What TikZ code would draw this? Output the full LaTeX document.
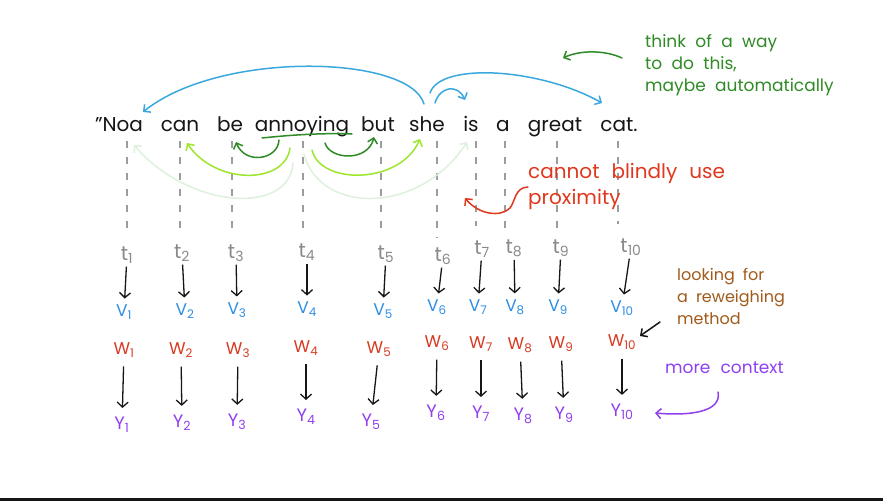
\documentclass[tikz,border=0pt]{standalone}
\usepackage{fontspec}
\setmainfont{Poppins}
\usetikzlibrary{arrows.meta}
\definecolor{ink}{HTML}{161616}
\definecolor{tgray}{HTML}{8A8A8A}
\definecolor{dgray}{HTML}{9C9C9C}
\definecolor{vblue}{HTML}{2E8FE5}
\definecolor{lblue}{HTML}{3AA8DF}
\definecolor{wred}{HTML}{D93A22}
\definecolor{nred}{HTML}{E0381E}
\definecolor{ypurp}{HTML}{9040F0}
\definecolor{dgreen}{HTML}{2E8B25}
\definecolor{lime}{HTML}{9EE52E}
\definecolor{pale}{HTML}{DDF1DD}
\definecolor{brown}{HTML}{A05A1A}
\newcommand\widespace[1]{\spaceskip=#1\relax}
\begin{document}
\begin{tikzpicture}[x=1pt,y=-1pt,
  word/.style={font=\fontsize{20}{24}\selectfont,text=ink,anchor=base,inner sep=0pt},
  tl/.style={font=\fontsize{20}{22}\selectfont,text=tgray,inner sep=1pt},
  vl/.style={font=\fontsize{17}{20}\selectfont,text=vblue,inner sep=1pt},
  wl/.style={font=\fontsize{17}{20}\selectfont,text=wred,inner sep=1pt},
  yl/.style={font=\fontsize{18}{20}\selectfont,text=ypurp,inner sep=1pt},
  dn/.style={draw=ink,line width=1.3pt,-{Straight Barb[length=5pt,width=11pt]}},
  gdash/.style={draw=dgray,line width=1.2pt,dash pattern=on 7pt off 9pt},
  note/.style={align=left,anchor=north west,inner sep=0pt},
  barb/.style={-{Straight Barb[length=5pt,width=10pt]}},
  arc/.style={line width=1.5pt,line cap=round,barb},
]
\fill[white] (0,0) rectangle (883,501);
\useasboundingbox (0,0) rectangle (883,501);
\fill[ink] (0,498) rectangle (883,501);

% sentence
\node[word] (s1) at (119,131) {”Noa};
\node[word] (s2) at (180,131) {can};
\node[word] (s3) at (230,131) {be};
\node[word] (s4) at (302,131) {annoying};
\node[word] (s5) at (378,131) {but};
\node[word] (s6) at (427,131) {she};
\node[word] (s7) at (471,131) {is};
\node[word] (s8) at (503,131) {a};
\node[word] (s9) at (555,131) {great};
\node[word] (s10) at (619,131) {cat.};

% dashed guides
\foreach \i/\dx/\dy in {1/127/235,2/180/236,3/232/232,4/303/235,5/381/235,6/437/238,7/476/226,8/505/228,9/557/232,10/618/224}{
  \coordinate (d\i) at (\dx,\dy);
  \coordinate (e\i) at (\dx,141);
  \draw[gdash] (e\i) -- (d\i);
}

% columns
\foreach \i/\tx/\ty/\vx/\vy/\wx/\wy/\yx/\yy in {
 1/127/255/124/312/124/350/122/425,
 2/182/253/185/311/181/350/182/423,
 3/236/253/237/310/238/350/237/422,
 4/307/252/307/309/306/348/306/417,
 5/386/254/383/311/379/349/371/422,
 6/443/256/437/307/437/343/436/413,
 7/482/249/478/307/481/344/481/414,
 8/514/248/515/307/520/345/523/416,
 9/561/248/558/307/561/344/564/415,
 10/631/247/622/308/622/342/622/412}{
  \node[tl] (t\i) at (\tx,\ty) {t\textsubscript{\i}};
  \node[vl] (v\i) at (\vx,\vy) {V\textsubscript{\i}};
  \node[wl] (w\i) at (\wx,\wy) {W\textsubscript{\i}};
  \node[yl] (y\i) at (\yx,\yy) {Y\textsubscript{\i}};
  \draw[dn,shorten <=2pt,shorten >=5pt] (t\i) -- (v\i);
  \draw[dn,shorten <=8pt,shorten >=8pt] (w\i) -- (y\i);
}

% arcs: blue
\coordinate (b1s) at (424,104); \coordinate (b1e) at (143,112);
\coordinate (b2s) at (435,103); \coordinate (b2e) at (465,100);
\coordinate (b3s) at (430,93);  \coordinate (b3e) at (602,103);
\draw[arc,lblue] (b1s) .. controls (410,55) and (220,50) .. (b1e);
\draw[arc,lblue] (b2s) .. controls (440,86) and (458,84) .. (b2e);
\draw[arc,lblue] (b3s) .. controls (440,62) and (540,68) .. (b3e);

% green underline
\coordinate (u1) at (262,138); \coordinate (u2) at (352,134);
\draw[dgreen,line width=1.5pt,line cap=round] (u1) .. controls (300,134) and (330,133) .. (u2);

% pale arcs
\coordinate (p1s) at (293,163); \coordinate (p1e) at (134,145);
\coordinate (p2s) at (304,154); \coordinate (p2e) at (467,142);
\draw[arc,pale] (p1s) .. controls (290,215) and (190,210) .. (p1e);
\draw[arc,pale] (p2s) .. controls (320,215) and (420,215) .. (p2e);

% lime arcs
\coordinate (l1s) at (290,148); \coordinate (l1e) at (187,143);
\coordinate (l2s) at (312,150); \coordinate (l2e) at (420,139);
\draw[arc,lime] (l1s) .. controls (285,185) and (215,185) .. (l1e);
\draw[arc,lime] (l2s) .. controls (320,185) and (400,185) .. (l2e);

% dark green arcs
\coordinate (g1s) at (279,140); \coordinate (g1e) at (236,142);
\coordinate (g2s) at (325,143); \coordinate (g2e) at (374,137);
\draw[arc,dgreen] (g1s) .. controls (278,160) and (245,165) .. (g1e);
\draw[arc,dgreen] (g2s) .. controls (330,160) and (368,162) .. (g2e);

% annotations
\node[note,text=dgreen,font=\fontsize{17}{22}\selectfont,execute at begin node={\widespace{0.55em}}] (n1) at (645,34) {think of a way\\to do this,\\maybe automatically};
\coordinate (ga) at (622,58); \coordinate (gb) at (563,58);
\draw[arc,dgreen] (ga) .. controls (605,50) and (580,50) .. (gb);

\node[note,text=nred,font=\fontsize{20}{26}\selectfont,execute at begin node={\widespace{0.6em}}] (n2) at (528,163) {cannot blindly use\\proximity};
\coordinate (ra) at (528,187); \coordinate (rm) at (510,208); \coordinate (rb) at (465,198);
\draw[arc,nred] (ra) .. controls (515,187) and (515,202) .. (rm) .. controls (500,218) and (478,214) .. (rb);

\node[note,text=brown,font=\fontsize{16}{22}\selectfont,execute at begin node={\widespace{0.5em}}] (n3) at (677,268) {looking for\\a reweighing\\method};
\coordinate (ka) at (660,322); \coordinate (kb) at (640,336);
\draw[arc,ink] (ka) -- (kb);

\node[note,text=ypurp,font=\fontsize{17}{20}\selectfont,execute at begin node={\widespace{0.6em}}] (n4) at (665,362) {more context};
\coordinate (ma) at (718,392); \coordinate (mb) at (655,413);
\draw[arc,ypurp] (ma) .. controls (722,412) and (690,416) .. (mb);
\end{tikzpicture}
\end{document}
